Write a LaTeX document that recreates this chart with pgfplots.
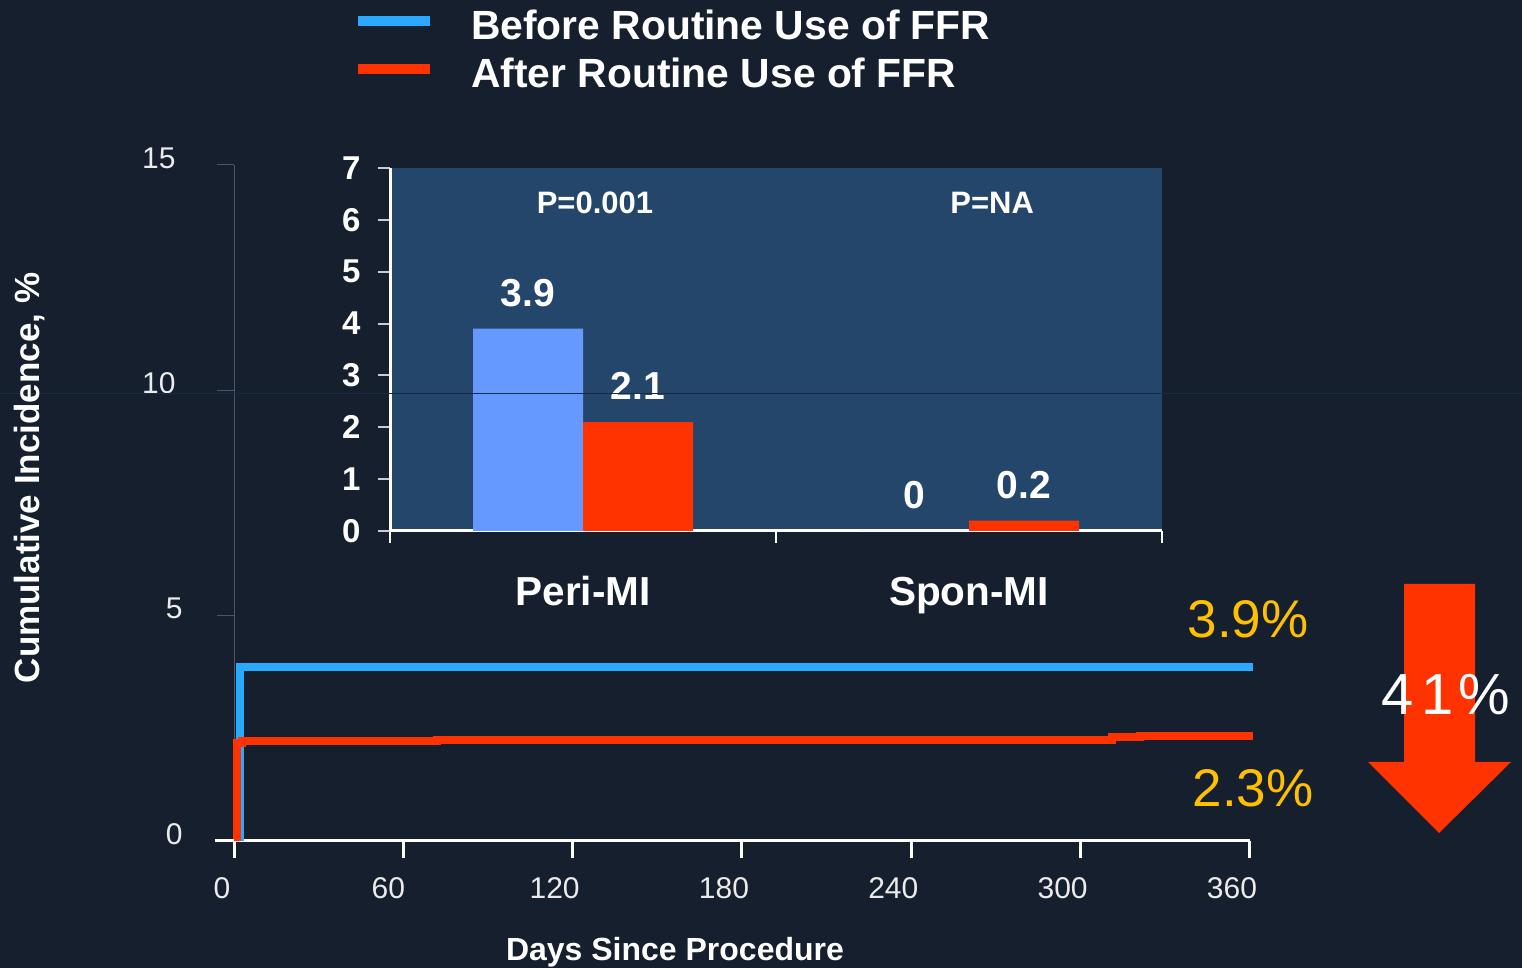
\documentclass[border=0pt]{standalone}
\usepackage{pgfplots}
\pgfplotsset{compat=1.18}
\usepackage{fontspec}
\setmainfont{Liberation Sans}
\definecolor{bg}{HTML}{151F2D}
\definecolor{insetbg}{HTML}{24466A}
\definecolor{kmblue}{HTML}{29AAFF}
\definecolor{kmred}{HTML}{FF3300}
\definecolor{barblue}{HTML}{6699FF}
\definecolor{gold}{HTML}{FFC000}
\definecolor{spine}{HTML}{4A5566}
\definecolor{artline}{HTML}{1A2B47}
\newcommand{\fs}[1]{\fontsize{#1}{#1}\selectfont}
\begin{document}
\begin{tikzpicture}[x=1pt,y=1pt]
\fill[bg] (0,0) rectangle (1522,968);
\useasboundingbox (0,0) rectangle (1522,968);
% main Kaplan-Meier axis
\begin{axis}[
  at={(234pt,127pt)}, anchor=south west,
  scale only axis, width=1016pt, height=676pt,
  xmin=0, xmax=360, ymin=0, ymax=15,
  axis x line=bottom, axis y line=left,
  x axis line style={white, line width=3pt, -},
  y axis line style={spine, line width=1pt, -},
  xtick={0,60,120,180,240,300,360},
  xticklabels={\hspace*{12pt}0,\hspace*{6pt}60,120,180,240,300,360},
  ytick={0,5,10,15},
  yticklabels={0,5,10\hspace*{7pt},15\hspace*{7pt}},
  tick align=outside,
  x tick style={white, line width=3pt},
  y tick style={spine, line width=1pt},
  major tick length=17pt,
  /pgf/number format/assume math mode=true,
  ticklabel style={text=white!92!black, font=\fs{30}},
  xticklabel style={xshift=-18pt, yshift=-16pt},
  yticklabel style={xshift=-31pt, yshift=7pt},
  clip=false,
]
\addplot[const plot, kmblue, line width=8pt] coordinates {
 (2.3,0) (2.3,3.85) (361,3.85)};
\addplot[const plot, kmred, line width=8pt] coordinates {
 (1.1,0) (1.1,2.17) (3,2.21) (72,2.25) (311,2.30) (321,2.34) (361,2.34)};
\draw[white, line width=3pt] (axis cs:0,0) -- ++(-19pt,0);
\end{axis}
% inset bar chart
\begin{axis}[
  at={(390pt,437pt)}, anchor=south west,
  scale only axis, width=772pt, height=363pt,
  xmin=-0.5, xmax=1.5, ymin=0, ymax=7,
  axis background/.style={fill=insetbg},
  axis x line=bottom, axis y line=left,
  axis line style={white, line width=3pt, -},
  xtick={-0.5,0.5,1.5}, xticklabels={},
  ytick={0,1,...,7},
  tick align=outside,
  x tick style={white, line width=2pt},
  y tick style={white!80!black, line width=2pt},
  major tick length=12pt,
  /pgf/number format/assume math mode=true,
  yticklabel style={text=white, font=\bfseries\fs{33}, xshift=-14pt},
  ybar=0pt, bar width=110pt,
  nodes near coords,
  every node near coord/.append style={text=white, font=\bfseries\fs{39}, anchor=center, yshift=36pt},
  clip=false,
]
\addplot[fill=barblue, draw=none] coordinates {(0,3.9) (1,0)};
\addplot[fill=kmred, draw=none] coordinates {(0,2.1) (1,0.2)};
\node[text=white, font=\bfseries\fs{31}] at (axis cs:0.031,6.32) {P=0.001};
\node[text=white, font=\bfseries\fs{31}] at (axis cs:1.06,6.32) {P=NA};
\node[anchor=base, text=white, font=\bfseries\fs{40.5}] at (axis cs:0,-1.43) {Peri-MI};
\node[anchor=base, text=white, font=\bfseries\fs{40.5}] at (axis cs:1,-1.43) {Spon-MI};
\end{axis}
% faint horizontal artifact line
\draw[artline, line width=1pt] (0,574) -- (1522,574);
% axis titles
\node[text=white, font=\bfseries\fs{32}] at (675,16) {Days Since Procedure};
\node[text=white, font=\bfseries\fs{35}, rotate=90] at (30,490) {Cumulative Incidence, \%};
% legend
\draw[kmblue, line width=10pt] (358,947) -- (430,947);
\draw[kmred, line width=10pt] (358,899) -- (430,899);
\node[anchor=west, inner sep=0pt, text=white, font=\bfseries\fs{40.8}] at (471,943) {Before Routine Use of FFR};
\node[anchor=west, inner sep=0pt, text=white, font=\bfseries\fs{40.8}] at (471,895) {After Routine Use of FFR};
% annotations
\node[text=gold, font=\fs{53}] at (1248,349) {3.9\%};
\node[text=gold, font=\fs{53}] at (1253,180) {2.3\%};
\fill[kmred] (1404,384) -- (1475,384) -- (1475,206) -- (1511,206) -- (1439,135) -- (1368,206) -- (1404,206) -- cycle;
\node[anchor=west, inner sep=0pt, text=white, font=\fs{58}] at (1381,273) {4\hspace{8pt}1\hspace{5pt}\%};
\end{tikzpicture}
\end{document}
